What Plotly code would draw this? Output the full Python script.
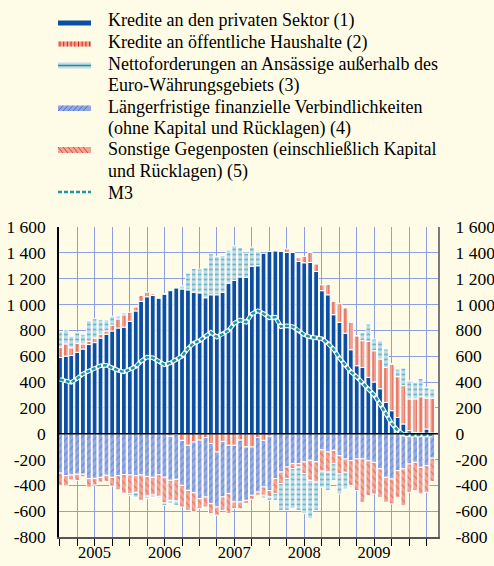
import plotly.graph_objects as go
import pandas as pd

# ---------------- data (12-month flows, EUR bn) ----------------
months = pd.date_range("2005-01-01", periods=65, freq="MS")

private = [590, 600, 605, 630, 655, 690, 705, 740, 770, 795, 818, 825,
           870, 950, 1025, 1060, 1070, 1050, 1081, 1107, 1127, 1120, 1113, 1095,
           1090, 1052, 1075, 1075, 1094, 1165, 1187, 1213, 1210, 1296, 1300, 1396,
           1411, 1416, 1411, 1403, 1403, 1334, 1323, 1326, 1256, 1107, 1075, 921,
           862, 778, 650, 526, 513, 436, 400, 348, 242, 178, 126, 75,
           23, 10, 5, 36, 5]

government = [80, 95, 60, 70, 40, 25, 35, 30, 25, 45, 70, 95,
              70, 30, 45, 35, 12, 0, 0, -20, -5, -52, -90, -65,
              -50, -30, -77, -142, -60, -90, -90, -50, -103, -103, -30, -52,
              -20, 0, 0, 27, 0, 28, 50, 77, 57, 45, 80, 103,
              145, 195, 212, 232, 207, 278, 242, 230, 271, 361, 315, 297,
              246, 259, 281, 240, 269]

external = [120, 110, 90, 85, 75, 160, 150, 115, 85, 70, 25, 15,
            -13, -38, 0, -20, -18, -13, -18, -26, -34, 25, 130, 185,
            185, 233, 318, 298, 286, 257, 268, 230, 188, 148, 110, -26,
            -26, -52, -207, -246, -310, -336, -309, -297, -220, -125, -142, -129,
            -155, -129, -13, 0, 64, 135, 91, 142, 143, 0, 59, 136,
            141, 128, 142, 82, 71]

longer_term = [-305, -325, -320, -314, -314, -348, -346, -338, -322, -338, -325, -316,
               -320, -325, -320, -333, -338, -318, -337, -341, -348, -348, -349, -392,
               -453, -460, -465, -426, -430, -374, -439, -479, -413, -374, -422, -361,
               -420, -348, -297, -258, -232, -232, -219, -206, -219, -125, -142, -129,
               -170, -196, -209, -196, -196, -209, -222, -273, -338, -351, -286, -273,
               -235, -222, -260, -248, -190]

other = [-97, -80, -38, -50, -20, -67, -52, -37, -48, -68, -110, -145,
         -147, -130, -195, -150, -137, -167, -200, -155, -168, -168, -155, -149,
         -78, -78, -77, -64, -104, -155, -52, -52, -26, -31, -25, -64,
         -50, -116, -90, -90, -39, -26, -91, -155, -155, -165, -155, -103,
         -142, -103, -193, -245, -335, -271, -245, -220, -193, -193, -207, -284,
         -219, -219, -207, -206, -180]

m3 = [420, 408, 397, 427, 462, 485, 504, 526, 530, 507, 490, 478,
      497, 520, 561, 593, 588, 558, 534, 548, 574, 600, 660, 700,
      720, 750, 784, 748, 770, 800, 855, 880, 862, 926, 952, 930,
      897, 902, 828, 836, 829, 800, 765, 748, 740, 735, 700, 655,
      585, 530, 480, 440, 395, 350, 300, 230, 155, 80, 25, -5,
      -10, -10, -15, -15, -10]

years = ["2005", "2006", "2007", "2008", "2009"]
y_ticks = [-800, -600, -400, -200, 0, 200, 400, 600, 800, 1000, 1200, 1400, 1600]
y_labels = ["-800", "-600", "-400", "-200", "0", "200", "400", "600", "800",
            "1 000", "1 200", "1 400", "1 600"]

legend_texts = [
    "Kredite an den privaten Sektor (1)",
    "Kredite an öffentliche Haushalte (2)",
    "Nettoforderungen an Ansässige außerhalb des",
    "Euro-Währungsgebiets (3)",
    "Längerfristige finanzielle Verbindlichkeiten",
    "(ohne Kapital und Rücklagen) (4)",
    "Sonstige Gegenposten (einschließlich Kapital",
    "und Rücklagen) (5)",
    "M3",
]

# ---------------- styles ----------------
BG = "#fefce6"
GRID = "#8d9ee3"
FONT = "Liberation Serif, Times New Roman, serif"
FS = 17.5
FS_LEG = 18
C_PRIV = "#0b4ea2"
C_GOV, C_GOV_FG = "#f0a08c", "#d7261e"
C_EXT, C_EXT_FG = "#c3dce6", "#1593a5"
C_LT, C_LT_FG = "#93a9e2", "#4e6fcc"
C_OTH, C_OTH_FG = "#f2a594", "#d9473c"
C_M3 = "#1a98a8"

W, H = 494, 566
PL, PR, PT, PB = 59, 438, 227, 537
BAR_W = 25 * 86400000


def px2x(px):
    return (px - PL) / (PR - PL)


def py2y(py):
    return (PB - py) / (PB - PT)


fig = go.Figure()
line_white = dict(color="white", width=1)


def bar(vals, color, pattern=None):
    m = dict(color=color, line=line_white)
    if pattern:
        m["pattern"] = pattern
    fig.add_trace(go.Bar(x=months, y=vals, width=BAR_W, marker=m,
                         showlegend=False, hoverinfo="skip"))


bar(private, C_PRIV)
bar(government, C_GOV, dict(shape="|", fgcolor=C_GOV_FG, size=4, solidity=0.3, fillmode="overlay"))
bar(longer_term, C_LT, dict(shape="/", fgcolor=C_LT_FG, size=5, solidity=0.25, fillmode="overlay"))
bar(other, C_OTH, dict(shape="\\", fgcolor=C_OTH_FG, size=5, solidity=0.25, fillmode="overlay"))
bar(external, C_EXT, dict(shape="-", fgcolor=C_EXT_FG, size=5, solidity=0.35, fillmode="overlay"))

# M3 drawn on the right-hand (mirrored) axis so that axis is rendered
fig.add_trace(go.Scatter(x=months, y=m3, mode="lines", yaxis="y2",
                         line=dict(color="white", width=4.5),
                         showlegend=False, hoverinfo="skip"))
fig.add_trace(go.Scatter(x=months, y=m3, mode="lines", yaxis="y2",
                         line=dict(color=C_M3, width=2.5, dash="4px,2px"),
                         showlegend=False, hoverinfo="skip"))

shapes = []
# zero line
shapes.append(dict(type="line", xref="paper", yref="y", x0=0, x1=1, y0=0, y1=0,
                   line=dict(color="black", width=1.5), layer="above"))

# ---------------- custom legend ----------------
sx0, sx1 = 58, 91


def rect(y0, y1, color):
    shapes.append(dict(type="rect", xref="paper", yref="paper",
                       x0=px2x(sx0), x1=px2x(sx1), y0=py2y(y1), y1=py2y(y0),
                       fillcolor=color, line=dict(width=0)))


def seg(xa, ya, xb, yb, color, width=1.2, dash="solid"):
    shapes.append(dict(type="line", xref="paper", yref="paper",
                       x0=px2x(xa), y0=py2y(ya), x1=px2x(xb), y1=py2y(yb),
                       line=dict(color=color, width=width, dash=dash)))


# (1)
rect(20.5, 25.5, C_PRIV)
# (2)
rect(41.5, 46.5, C_GOV)
xx = sx0 + 2
while xx < sx1 - 1:
    seg(xx, 41.5, xx, 46.5, C_GOV_FG, 1.0)
    xx += 3.7
# (3)
rect(62.5, 68.5, C_EXT)
seg(sx0, 65.5, sx1, 65.5, C_EXT_FG, 1.6)
# (4)
rect(105.5, 111, C_LT)
xx = sx0
while xx + 5 <= sx1:
    seg(xx, 111, xx + 5, 105.5, C_LT_FG, 1)
    xx += 5
# (5)
rect(147, 153, C_OTH)
xx = sx0
while xx + 5 <= sx1:
    seg(xx, 147, xx + 5, 153, C_OTH_FG, 1)
    xx += 5
# M3
seg(sx0, 192, sx1, 192, C_M3, 2.5, "4px,2px")

annotations = []
for i, t in enumerate(legend_texts):
    annotations.append(dict(text=t, xref="paper", yref="paper",
                            x=px2x(106), y=py2y(20.5 + 21.5 * i),
                            xanchor="left", yanchor="middle", showarrow=False,
                            font=dict(family=FONT, size=FS_LEG, color="black")))

year_mid = [f"{y}-07-01" for y in years]

fig.update_layout(
    width=W, height=H,
    margin=dict(l=PL, r=W - PR, t=PT, b=H - PB, pad=0, autoexpand=False),
    paper_bgcolor=BG, plot_bgcolor=BG,
    barmode="relative",
    font=dict(family=FONT, size=FS, color="black"),
    shapes=shapes, annotations=annotations,
    showlegend=False,
    xaxis=dict(type="date", range=["2004-12-27", "2010-05-31"], automargin=False,
               tickmode="array", tickvals=year_mid, ticktext=years,
               ticks="outside", ticklen=7, tickcolor="black", tickwidth=1.2,
               ticklabelstandoff=-8,
               showgrid=True, gridcolor=GRID, gridwidth=1,
               minor=dict(dtick="M3", tick0="2005-01-01", ticks="outside",
                          ticklen=7, tickcolor="black", tickwidth=1.2,
                          showgrid=True, gridcolor=GRID, gridwidth=1),
               showline=True, linecolor="#555555", linewidth=2,
               zeroline=False, tickfont=dict(family=FONT, size=16.5)),
    yaxis=dict(range=[-800, 1600], tickmode="array", tickvals=y_ticks, automargin=False,
               ticktext=y_labels, ticks="", ticklabelstandoff=8,
               showgrid=True, gridcolor=GRID, gridwidth=1,
               showline=True, linecolor="black", linewidth=1.5,
               zeroline=False, tickfont=dict(family=FONT, size=FS)),
    yaxis2=dict(range=[-800, 1600], tickmode="array", tickvals=y_ticks, automargin=False,
                ticktext=y_labels, ticks="", ticklabelstandoff=12,
                overlaying="y", side="right", showgrid=False,
                showline=True, linecolor="#7a7a7a", linewidth=2,
                zeroline=False, tickfont=dict(family=FONT, size=FS)),
)

fig.write_html("out.html", config={"displayModeBar": False},
               post_script="document.body.style.margin='0';")
